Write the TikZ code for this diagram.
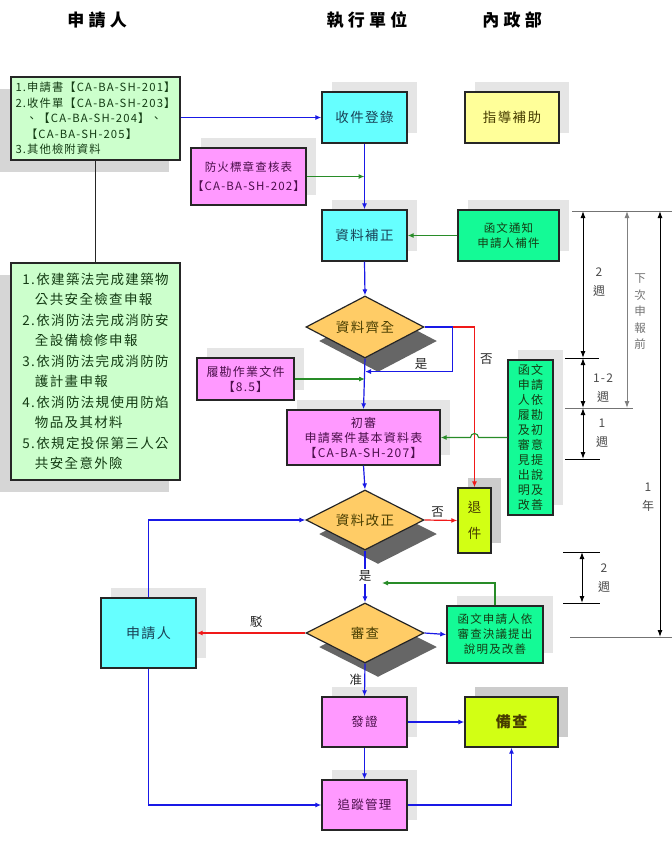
\documentclass[tikz,border=0pt]{standalone}
\usepackage{fontspec}
\setmainfont[LetterSpace=10]{Noto Sans CJK TC}
\newfontfamily\headfont[LetterSpace=25]{Noto Sans CJK TC}
\usetikzlibrary{arrows.meta, positioning, shapes.geometric, shadows, calc}
\definecolor{cLeaf}{RGB}{204,255,204}
\definecolor{cCyan}{RGB}{102,255,255}
\definecolor{cPink}{RGB}{255,153,255}
\definecolor{cLemon}{RGB}{255,255,153}
\definecolor{cMint}{RGB}{20,250,150}
\definecolor{cLime}{RGB}{210,255,20}
\definecolor{cGold}{RGB}{255,204,102}
\definecolor{cFlow}{RGB}{25,25,230}
\definecolor{cStop}{RGB}{240,25,25}
\definecolor{cNote}{RGB}{40,140,40}
\definecolor{tLeaf}{RGB}{20,60,20}
\definecolor{tSea}{RGB}{25,65,85}
\definecolor{tPlum}{RGB}{75,15,75}
\definecolor{tOlive}{RGB}{70,60,0}

\begin{document}
\begin{tikzpicture}[x=1pt, y=-1pt,
    every node/.style={font=\fontsize{12.5}{15.5}\selectfont, inner sep=0pt, align=center},
    box/.style={rectangle, draw=black!85, line width=1.4pt},
    upshade/.style={drop shadow={shadow xshift=10pt, shadow yshift=10pt, fill=black!10, opacity=1}},
    downshade/.style={drop shadow={shadow xshift=-11pt, shadow yshift=-12pt, fill=black!16, opacity=1}},
    darkshade/.style={drop shadow={shadow xshift=10pt, shadow yshift=10pt, fill=black!20, opacity=1}},
    decide/.style={diamond, aspect=2, draw=black!85, line width=1.2pt, fill=cGold,
      minimum width=118pt, minimum height=62pt, text=tOlive, font=\fontsize{13.5}{16}\selectfont,
      drop shadow={shadow xshift=13pt, shadow yshift=-14pt, fill=black!60, opacity=1}},
    flow/.style={cFlow, line width=1.2pt, -{Latex[length=6pt, width=5pt]}},
    nope/.style={cStop, line width=1.2pt, -{Latex[length=6pt, width=5pt]}},
    aux/.style={cNote, line width=1.1pt, -{Latex[length=6pt, width=5pt]}},
    tag/.style={text=black!85, font=\fontsize{12.5}{15}\selectfont},
    dimarrow/.style={line width=1pt, {Latex[length=7pt, width=5pt]}-{Latex[length=7pt, width=5pt]}},
    dimrule/.style={line width=1pt},
    dimtxt/.style={text=black!70, font=\fontsize{12}{19}\selectfont}
  ]
  \fill[white] (0,0) rectangle (672,857);
  \useasboundingbox (0,0) rectangle (672,857);

  % lanes
  \node[font=\headfont\fontsize{17}{20}\selectfont\bfseries] (hApplicant) at (97,20) {申請人};
  \node[font=\headfont\fontsize{17}{20}\selectfont\bfseries] (hAgency) at (367,20) {執行單位};
  \node[font=\headfont\fontsize{17}{20}\selectfont\bfseries] (hMinistry) at (512,20) {內政部};

  % applicant side
  \node[box, downshade, fill=cLeaf, text=tLeaf, minimum width=169pt, minimum height=83pt, align=left,
    font=\fontsize{11.3}{15.5}\selectfont] (apply) at (95.5,118.5)
    {1.申請書【CA-BA-SH-201】\\2.收件單【CA-BA-SH-203】\\\phantom{2.}、【CA-BA-SH-204】、\\\phantom{2.}【CA-BA-SH-205】\\3.其他檢附資料};
  \node[box, downshade, fill=cLeaf, text=tLeaf, minimum width=169pt, minimum height=217pt, align=left,
    font=\fontsize{13.5}{20.5}\selectfont] (reqs) at (95.5,371.5)
    {1.依建築法完成建築物\\\phantom{1.}公共安全檢查申報\\2.依消防法完成消防安\\\phantom{2.}全設備檢修申報\\
     3.依消防法完成消防防\\\phantom{3.}護計畫申報\\4.依消防法規使用防焰\\\phantom{4.}物品及其材料\\
     5.依規定投保第三人公\\\phantom{5.}共安全意外險};
  \node[box, upshade, fill=cCyan, text=tSea, minimum width=95pt, minimum height=70pt,
    font=\fontsize{14}{16}\selectfont] (apl) at (148.5,633) {申請人};

  % agency side
  \node[box, upshade, fill=cCyan, text=tSea, minimum width=85pt, minimum height=51pt,
    font=\fontsize{13.5}{16}\selectfont] (reg) at (364.5,117.5) {收件登錄};
  \node[box, upshade, fill=cPink, text=tPlum, minimum width=115pt, minimum height=57pt,
    font=\fontsize{11.5}{19}\selectfont] (chk) at (248.5,176.5) {防火標章查核表\\【CA-BA-SH-202】};
  \node[box, upshade, fill=cCyan, text=tSea, minimum width=85pt, minimum height=51pt,
    font=\fontsize{13.5}{16}\selectfont] (fix) at (364.5,235.5) {資料補正};
  \node[decide] (ok) at (365,327) {資料齊全};
  \node[box, upshade, fill=cPink, text=tPlum, minimum width=97pt, minimum height=42pt,
    font=\fontsize{12}{15}\selectfont] (site) at (245.5,379) {履勘作業文件\\【8.5】};
  \node[box, upshade, fill=cPink, text=tPlum, minimum width=153pt, minimum height=55pt,
    font=\fontsize{12}{15}\selectfont] (init) at (363.5,437.5) {初審\\申請案件基本資料表\\【CA-BA-SH-207】};
  \node[decide, minimum height=60pt] (corr) at (365,520) {資料改正};
  \node[decide, minimum height=60pt] (rev) at (365,633) {審查};
  \node[box, upshade, fill=cPink, text=tPlum, minimum width=85pt, minimum height=50pt,
    font=\fontsize{12.5}{15}\selectfont] (cert) at (364.5,722) {發證};
  \node[box, upshade, fill=cPink, text=tPlum, minimum width=85pt, minimum height=50pt,
    font=\fontsize{12.5}{15}\selectfont] (track) at (364.5,805) {追蹤管理};

  % ministry side
  \node[box, upshade, fill=cLemon, text=tOlive, minimum width=94pt, minimum height=51pt,
    font=\fontsize{13.5}{16}\selectfont] (guide) at (512,117.5) {指導補助};
  \node[box, upshade, fill=cMint, text=tLeaf, minimum width=101pt, minimum height=51pt,
    font=\fontsize{11.5}{15}\selectfont] (notify) at (508.5,235.5) {函文通知\\申請人補件};
  \node[box, upshade, fill=cMint, text=tLeaf, minimum width=45pt, minimum height=155pt,
    font=\fontsize{12}{15}\selectfont] (reply) at (530.5,437.5)
    {函文\\申請\\人依\\履勘\\及初\\審意\\見提\\出說\\明及\\改善};
  \node[box, darkshade, fill=cLime, text=tOlive, minimum width=33pt, minimum height=65pt,
    font=\fontsize{13.5}{26}\selectfont] (back) at (474.5,520.5) {退\\件};
  \node[box, upshade, fill=cMint, text=tLeaf, minimum width=96pt, minimum height=57pt,
    font=\fontsize{11.5}{15}\selectfont] (letter) at (495,634.5) {函文申請人依\\審查決議提出\\說明及改善};
  \node[box, darkshade, fill=cLime, text=tOlive, minimum width=93pt, minimum height=50pt,
    font=\fontsize{15}{18}\selectfont\bfseries] (file) at (511.5,722) {備查};
  \coordinate (gIn) at (382,583);

  % connectors
  \draw[line width=1.2pt, black!85] (apply.south) -- (reqs.north);
  \draw[flow] (apply.east |- reg.west) -- (reg.west);
  \draw[flow] (reg.south) -- (fix.north);
  \draw[aux] (chk.east) -- (chk.east -| reg.south);
  \draw[aux] (notify.west) -- (fix.east);
  \draw[flow] (fix.south) -- (ok.north);
  \draw[flow] (ok.east) -- ++(28,0) |- node[tag, pos=0.68, above=1pt] {是} ($(ok.south)+(0,13)$);
  \draw[nope] ($(ok.east)+(28,0)$) -- (back.north |- ok.east) -- node[tag, pos=0.2, right=5pt] {否} (back.north);
  \draw[flow] (ok.south) -- (init.north);
  \draw[aux] (site.east) -- (site.east -| ok.south);
  \draw[aux] (reply.west) -- ($(back.north |- init.east)+(4,0)$) arc[start angle=0, end angle=-180, radius=4] -- (init.east);
  \draw[flow] (init.south) -- (corr.north);
  \draw[nope] (corr.east) -- node[tag, pos=0.4, above=2pt] {否} (back.west);
  \draw[flow] (corr.south) -- node[tag, fill=white, inner sep=2pt] (yes2) {是} (rev.north);
  \draw[aux] (letter.north) |- (gIn);
  \draw[nope] (rev.west) -- node[tag, pos=0.45, above=5pt] {駁} (apl.east);
  \draw[flow] (rev.east) -- (letter.west);
  \draw[flow] (apl.north) |- (corr.west);
  \draw[flow] (rev.south) -- node[tag, left=2pt] {准} (cert.north);
  \draw[flow] (cert.east) -- (file.west);
  \draw[flow] (cert.south) -- (track.north);
  \draw[flow] (apl.south) |- (track.west);
  \draw[flow] (track.east) -| (file.south);

  % time spans
  \draw[dimrule, black!55] (572,211) -- (672,211);
  \draw[dimrule] (565,358) -- (599,358);
  \draw[dimrule, black!55] (565,408) -- (633,408);
  \draw[dimrule] (565,459) -- (600,459);
  \draw[dimrule] (563,552) -- (600,552);
  \draw[dimrule] (563,603) -- (600,603);
  \draw[dimrule, black!55] (570,637) -- (672,637);
  \draw[dimarrow] (583,211) -- (583,358);
  \draw[dimarrow] (583,358) -- (583,408);
  \draw[dimarrow] (583,408) -- (583,459);
  \draw[dimarrow, black!50] (627,211) -- (627,408);
  \draw[dimarrow] (660,211) -- (660,637);
  \draw[dimarrow] (582,552) -- (582,603);
  \node[dimtxt] (wkA) at (599,282) {2\\週};
  \node[dimtxt] (wkB) at (603,388) {1-2\\週};
  \node[dimtxt] (wkC) at (602,433) {1\\週};
  \node[dimtxt, text=black!55, font=\fontsize{11.5}{16.5}\selectfont] (nextRep) at (640,312) {下\\次\\申\\報\\前};
  \node[dimtxt] (yr) at (648,497) {1\\年};
  \node[dimtxt] (wkD) at (604,578) {2\\週};
\end{tikzpicture}
\end{document}
